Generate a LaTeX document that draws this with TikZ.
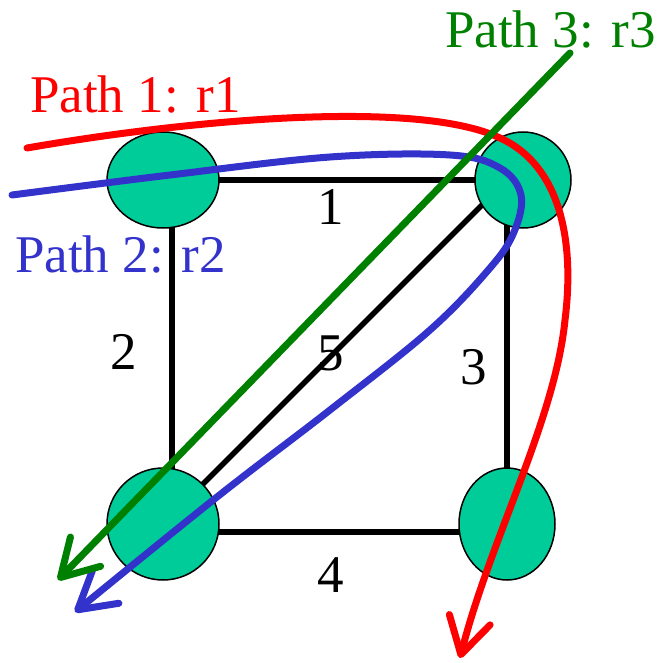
\documentclass[tikz,border=0pt]{standalone}
\usepackage{fontspec}
\setmainfont{Liberation Serif}
\newfontfamily\tnr{Liberation Serif}
\usetikzlibrary{shapes.geometric,arrows.meta,backgrounds}
\definecolor{nodegreen}{HTML}{00CC99}
\definecolor{pathred}{HTML}{FF0000}
\definecolor{pathblue}{HTML}{3333CC}
\definecolor{pathgreen}{HTML}{008000}
\tikzset{
  router/.style={ellipse,draw=black,line width=1.5pt,fill=nodegreen,inner sep=0pt},
  link/.style={draw=black,line width=5.5pt},
  lbl/.style={inner sep=0pt,anchor=base,font=\tnr\fontsize{53}{60}\selectfont},
  plbl/.style={inner sep=0pt,anchor=base west,font=\tnr\fontsize{53}{60}\selectfont},
  route/.style={line width=7pt,line cap=round,line join=round,
    -{Straight Barb[length=36pt,width=42pt,round]}},
}
\begin{document}
\begin{tikzpicture}[x=1pt,y=-1pt]
\useasboundingbox (0,0) rectangle (656,663);
% routers
\node[router,minimum width=112pt,minimum height=96pt] (TL) at (163,180) {};
\node[router,minimum width=96pt,minimum height=96pt] (TR) at (523,180) {};
\node[router,minimum width=112pt,minimum height=112pt] (BL) at (163,524) {};
\node[router,minimum width=96pt,minimum height=112pt] (BR) at (507,524) {};
% links
\begin{scope}[on background layer]
\draw[link] (TL.center) -- (TR.center);
\draw[link] ([xshift=9pt]TL.center) -- ([xshift=9pt]BL.center);
\draw[link] ([xshift=-16pt]TR.center) -- (BR.center);
\draw[link] ([yshift=-8pt]BL.center) -- ([yshift=-8pt]BR.center);
\draw[link] (BL.center) -- ([yshift=16pt]TR.center);
\end{scope}
% link labels
\node[lbl] (l1) at (331,224) {1};
\node[lbl] (l2) at (124,369) {2};
\node[lbl] (l3) at (474,384) {3};
\node[lbl] (l4) at (331,592) {4};
\node[lbl] (l5) at (331,370) {5};
% paths
\coordinate (r1s) at (27,148);
\coordinate (r1e) at (460,658);
\coordinate (r2s) at (12,195);
\coordinate (r2e) at (75,612);
\coordinate (r3s) at (570,53);
\coordinate (r3e) at (58,580);
\draw[route,pathred] (r1s) .. controls (200,118) and (420,100) .. (500,138)
  .. controls (560,165) and (575,240) .. (565,320)
  .. controls (555,420) and (490,540) .. (r1e);
\draw[route,pathblue] plot[smooth,tension=0.6] coordinates
  {(r2s) (170,175) (330,157) (450,155) (500,168) (521,195) (514,232) (490,268) (430,330) (330,410) (217,497) (r2e)};
\draw[route,pathgreen] (r3s) -- (r3e);
% path labels
\node[plbl,text=pathred] (p1) at (30,113) {Path 1: r1};
\node[plbl,text=pathblue] (p2) at (15,272) {Path 2: r2};
\node[plbl,text=pathgreen] (p3) at (445,48) {Path 3: r3};
\end{tikzpicture}
\end{document}
